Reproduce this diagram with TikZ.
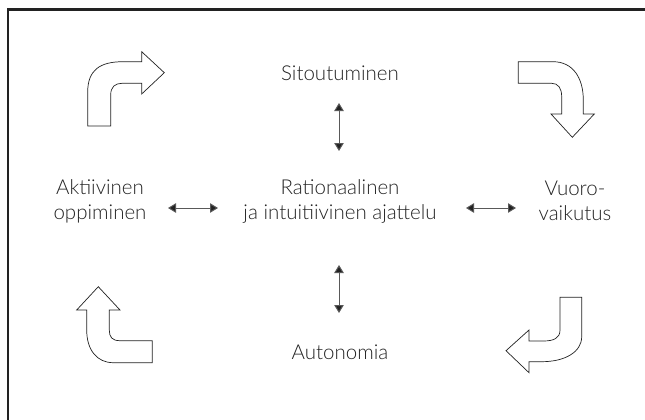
\documentclass[tikz,border=0pt]{standalone}
\usepackage{fontspec}
\setmainfont{Lato}[UprightFont=* Light]
\usetikzlibrary{arrows.meta}
\definecolor{ink}{HTML}{222222}
\tikzset{
  label text/.style={font=\fontsize{20.5}{25}\selectfont, text=ink, align=center, inner sep=0pt},
  bend arrow/.style={draw=ink, line width=0.7pt, fill=white, line join=miter},
  link/.style={draw=ink!75, line width=1pt,
    {Triangle[length=8pt,width=9.5pt,fill=ink]}-{Triangle[length=8pt,width=9.5pt,fill=ink]}},
  frame line/.style={draw=ink, line width=2.5pt}
}
\begin{document}
\begin{tikzpicture}[x=1pt, y=-1pt]
  \useasboundingbox (0,0) rectangle (645,420);
  % frame
  \draw[frame line] (7.8,420) -- (7.8,9.3) -- (645,9.3);

  % concepts
  \node[label text] (sit) at (340,73) {Sitoutuminen};
  \node[label text] (rat) at (340,201) {Rationaalinen\\ja intuitiivinen ajattelu};
  \node[label text] (akt) at (100,201) {Aktiivinen\\oppiminen};
  \node[label text] (vuo) at (575,201) {Vuoro-\\vaikutus};
  \node[label text] (aut) at (340,352) {Autonomia};

  % links between the concepts
  \coordinate (t1) at (339,103);  \coordinate (t2) at (339,151);
  \coordinate (b1) at (339,265);  \coordinate (b2) at (339,313);
  \coordinate (l1) at (168,208);  \coordinate (l2) at (218,208);
  \coordinate (r1) at (466,208);  \coordinate (r2) at (516,208);
  \draw[link] (t1) -- (t2);
  \draw[link] (b1) -- (b2);
  \draw[link] (l1) -- (l2);
  \draw[link] (r1) -- (r2);

  % bent arrows in the corners
  % top left: up then right
  \draw[bend arrow] (87.7,126) -- (87.7,92)
    .. controls (87.7,70) and (100,61.7) .. (123,61.7)
    -- (141.7,61.7) -- (141.7,51.7) -- (164.3,72.7) -- (141.7,94) -- (141.7,83.3)
    -- (122,83.3) .. controls (115,83.3) and (110.7,87) .. (110.7,95)
    -- (110.7,126) -- cycle;
  % top right: right then down
  \draw[bend arrow] (518.3,61.7) -- (553,61.7)
    .. controls (573,61.7) and (583.3,78) .. (583.3,100)
    -- (583.3,114) -- (594.3,114) -- (572.3,137.3) -- (551,114) -- (561.7,114)
    -- (561.7,96.7) .. controls (561.7,88) and (558,83.3) .. (551.7,83.3)
    -- (518.3,83.3) -- cycle;
  % bottom right: down then left
  \draw[bend arrow] (560,297.3) -- (581.7,297.3) -- (581.7,336.7)
    .. controls (581.7,352) and (565,361.7) .. (541.7,361.7)
    -- (529,361.7) -- (529,372.7) -- (506,350.7) -- (529,330) -- (529,341)
    -- (543.3,341) .. controls (554,341) and (560,338) .. (560,330)
    -- cycle;
  % bottom left: left then up
  \draw[bend arrow] (152.3,340.7) -- (120,340.7)
    .. controls (112,340.7) and (109.3,337) .. (109.3,330)
    -- (109.3,310) -- (120,310) -- (98.3,286.7) -- (76.7,310) -- (86.7,310)
    -- (86.7,330) .. controls (86.7,350) and (97,362.7) .. (113.3,362.7)
    -- (152.3,362.7) -- cycle;
\end{tikzpicture}
\end{document}
